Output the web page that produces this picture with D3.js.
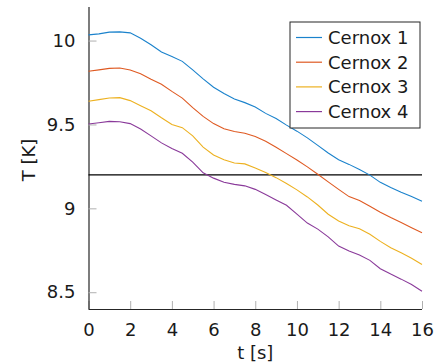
<!DOCTYPE html>
<html>
<head>
<meta charset="utf-8">
<script src="https://cdn.jsdelivr.net/npm/d3@7"></script>
<style>
  html, body { margin: 0; padding: 0; background: #fff; }
  svg { display: block; font-family: "DejaVu Sans", sans-serif; }
</style>
</head>
<body>
<svg id="chart" width="438" height="364"></svg>
<script>
const time = [0,0.5,1,1.5,2,2.5,3,3.5,4,4.5,5,5.5,6,6.5,7,7.5,8,8.5,9,9.5,10,10.5,11,11.5,12,12.5,13,13.5,14,14.5,15,15.5,16];
const cernox1 = [10.034,10.040,10.050,10.052,10.046,10.014,9.975,9.932,9.905,9.876,9.825,9.772,9.722,9.684,9.652,9.630,9.604,9.566,9.535,9.496,9.460,9.420,9.375,9.330,9.290,9.262,9.232,9.198,9.155,9.124,9.096,9.070,9.042];
const cernox2 = [9.817,9.825,9.834,9.836,9.825,9.802,9.770,9.740,9.697,9.657,9.600,9.548,9.505,9.474,9.458,9.448,9.428,9.400,9.364,9.326,9.288,9.247,9.203,9.158,9.113,9.070,9.047,9.013,8.977,8.945,8.915,8.884,8.854];
const cernox3 = [9.638,9.648,9.658,9.660,9.642,9.612,9.582,9.540,9.500,9.481,9.432,9.365,9.318,9.290,9.270,9.265,9.241,9.213,9.183,9.148,9.110,9.068,9.020,8.965,8.925,8.896,8.878,8.845,8.803,8.765,8.735,8.703,8.665];
const cernox4 = [9.503,9.510,9.518,9.516,9.505,9.473,9.432,9.390,9.356,9.328,9.275,9.212,9.180,9.155,9.143,9.134,9.113,9.083,9.050,9.018,8.965,8.912,8.876,8.830,8.775,8.745,8.722,8.690,8.640,8.608,8.578,8.546,8.506];
const seriesNames = ["Cernox 1","Cernox 2","Cernox 3","Cernox 4"];
const seriesColors = ["#1a82cc","#DF5A22","#EDB120","#8A3A9A"];
const xTicks = [0,2,4,6,8,10,12,14,16];
const yTicks = [8.5,9,9.5,10];
const yTickLabels = ["8.5","9","9.5","10"];
const threshold = 9.2;

const series = [cernox1, cernox2, cernox3, cernox4];
const svg = d3.select("#chart");
const m = {left: 88.5, right: 422, top: 7, bottom: 309};

const x = d3.scaleLinear().domain([0,16]).range([m.left, m.right]);
const y = d3.scaleLinear().domain([8.4,10.2]).range([m.bottom, m.top]);

// axes
const xAxis = d3.axisBottom(x).tickValues(xTicks).tickSize(-8).tickPadding(14).tickFormat(d3.format("d"));
const yAxis = d3.axisLeft(y).tickValues(yTicks).tickSize(-8).tickPadding(13).tickFormat((d,i) => yTickLabels[i]);

const gx = svg.append("g").attr("transform", `translate(0,${m.bottom})`).call(xAxis);
const gy = svg.append("g").attr("transform", `translate(${m.left},0)`).call(yAxis);
[gx, gy].forEach(g => {
  g.select(".domain").attr("stroke", "#262626").attr("stroke-width", 1.2);
  g.selectAll(".tick line").attr("stroke", "#b0b0b0").attr("stroke-width", 1);
  g.selectAll(".tick text").attr("font-size", 18).attr("fill", "#1a1a1a").attr("font-family", "DejaVu Sans");
});
gx.selectAll(".tick text").attr("dy", "0.71em");
gy.select(".domain").attr("d", `M0.5,${m.bottom}V${m.top}`);
gx.select(".domain").attr("d", `M${m.left},0.5H${m.right}`);

// threshold line
svg.append("line")
  .attr("x1", x(0)).attr("x2", x(16))
  .attr("y1", y(threshold)).attr("y2", y(threshold))
  .attr("stroke", "#000").attr("stroke-width", 1.2);

// data lines
const line = d3.line().x((d,i) => x(time[i])).y(d => y(d));
series.forEach((s, k) => {
  svg.append("path").datum(s)
    .attr("fill", "none")
    .attr("stroke", seriesColors[k])
    .attr("stroke-width", 1.1)
    .attr("d", line);
});

// axis titles
svg.append("text").attr("x", (m.left + m.right)/2).attr("y", 359)
  .attr("text-anchor", "middle").attr("font-size", 18).attr("fill", "#1a1a1a").text("t [s]");
svg.append("text").attr("transform", `translate(35,${(m.top+m.bottom)/2 + 2}) rotate(-90)`)
  .attr("text-anchor", "middle").attr("font-size", 18).attr("fill", "#1a1a1a").text("T [K]");

// legend
const lg = svg.append("g");
lg.append("rect").attr("x", 290).attr("y", 22).attr("width", 130).attr("height", 106)
  .attr("fill", "#fff").attr("stroke", "#262626").attr("stroke-width", 1);
seriesNames.forEach((n, k) => {
  const cy = 37.5 + k * 24.7;
  lg.append("line").attr("x1", 296).attr("x2", 322).attr("y1", cy).attr("y2", cy)
    .attr("stroke", seriesColors[k]).attr("stroke-width", 1.2);
  lg.append("text").attr("x", 328).attr("y", cy).attr("dy", "0.36em")
    .attr("font-size", 18).attr("fill", "#1a1a1a").text(n);
});
</script>
</body>
</html>
